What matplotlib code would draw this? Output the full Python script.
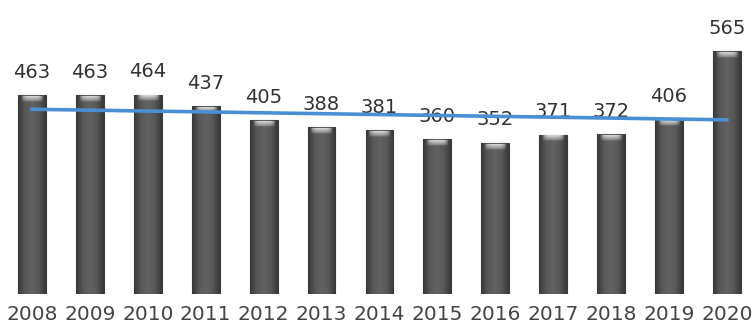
import numpy as np
import matplotlib
matplotlib.use("Agg")
import matplotlib.pyplot as plt
from matplotlib.colors import LinearSegmentedColormap

years = ["2008", "2009", "2010", "2011", "2012", "2013", "2014",
         "2015", "2016", "2017", "2018", "2019", "2020"]
values = [463, 463, 464, 437, 405, 388, 381, 360, 352, 371, 372, 406, 565]

fig = plt.figure(figsize=(7.52, 3.34), dpi=100)
ax = fig.add_axes([0, 0.1198, 1, 0.8802])

x = np.arange(len(years))
bars = ax.bar(x, values, width=0.48, color="#4f4f4f", edgecolor="#3c3c3c",
              linewidth=0.8, zorder=2)

# cylinder-like shading on each bar
shade = LinearSegmentedColormap.from_list(
    "shade", ["#383838", "#585858", "#626262", "#585858", "#383838"])
grad = np.linspace(0, 1, 64).reshape(1, -1)

# soft light cap (rgba), brighter in the middle, fading downwards
gx = np.linspace(-1, 1, 40)
gy = np.linspace(0, 1, 20)
GX, GY = np.meshgrid(gx, gy)
alpha = np.clip(1 - GX ** 4, 0, 1) * np.clip(1 - GY, 0, 1) ** 0.7
cap = np.zeros((20, 40, 4))
cap[..., :3] = 0.85
cap[..., 3] = alpha

for b in bars:
    x0, w, h = b.get_x(), b.get_width(), b.get_height()
    im = ax.imshow(grad, extent=[x0, x0 + w, 0, h], aspect="auto",
                   cmap=shade, zorder=2.1)
    im.set_clip_path(b)
    ax.imshow(cap, extent=[x0 + w * 0.1, x0 + w * 0.9, h - 16, h - 3],
              aspect="auto", zorder=2.2, origin="upper")

for xi, v in zip(x, values):
    ax.annotate(str(v), (xi, v), xytext=(0, 12.5), textcoords="offset points",
                ha="center", va="baseline", fontsize=14, color="#333333",
                zorder=3)

# linear trend line
coef = np.polyfit(x, values, 1)
ax.plot(x, np.polyval(coef, x), color="#4a8fd4", lw=2.6, zorder=4)

ax.set_xlim(-0.553, 12.435)
ax.set_ylim(0, 684)
ax.set_xticks(x)
ax.set_xticklabels(years, fontsize=14.5, color="#444444")
ax.tick_params(axis="x", length=0, pad=8)
ax.set_yticks([])
for s in ax.spines.values():
    s.set_visible(False)

fig.savefig("out.png", dpi=100)
